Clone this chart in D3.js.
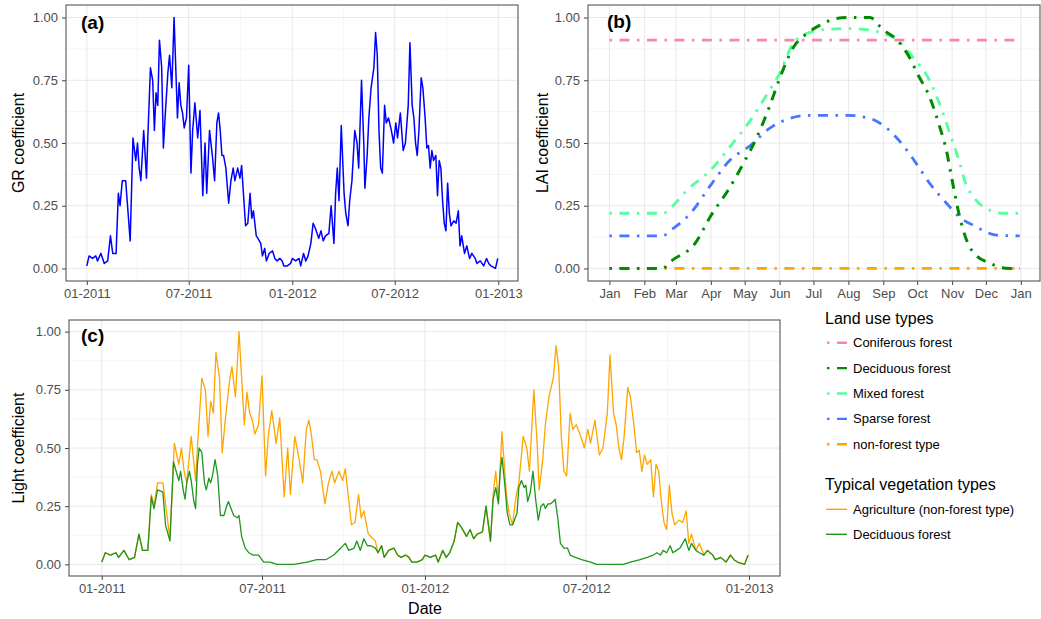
<!DOCTYPE html>
<html>
<head>
<meta charset="utf-8">
<script src="https://cdn.jsdelivr.net/npm/d3@7"></script>
<style>
body { margin: 0; background: #fff; }
svg { display: block; font-family: "Liberation Sans", Arial, sans-serif; }
</style>
</head>
<body>
<svg width="1041" height="619"></svg>
<script>
// days counted from 01-01-2011
var grDays = [0,4,10,16,19,25,31,37,42,46,52,56,59,63,69,77,82,87,90,93,96,101,106,108,113,117,120,123,126,129,133,136,139,144,147,151,154,155,161,164,167,170,173,177,181,185,188,192,197,201,206,210,213,218,223,227,231,234,237,240,243,247,252,256,260,263,268,272,275,282,286,290,293,296,301,304,309,312,316,319,324,330,334,338,343,347,350,356,362,365,371,377,380,385,389,393,398,402,406,412,416,420,424,430,434,439,442,445,448,452,457,460,464,467,471,476,480,483,488,492,494,498,501,505,510,513,516,519,522,525,529,532,536,541,545,549,552,557,562,566,571,574,578,581,584,587,590,594,597,601,604,607,610,613,616,620,623,626,629,632,635,638,641,644,647,652,656,660,663,666,671,675,680,684,690,693,699,705,710,714,718,726,730];
var grValues = [0.01,0.05,0.04,0.05,0.03,0.06,0.02,0.03,0.13,0.06,0.06,0.30,0.25,0.35,0.35,0.11,0.52,0.43,0.50,0.40,0.35,0.55,0.36,0.50,0.80,0.75,0.55,0.70,0.65,0.91,0.80,0.48,0.60,0.78,0.85,0.72,0.93,1.00,0.60,0.74,0.65,0.62,0.56,0.60,0.81,0.38,0.55,0.66,0.52,0.63,0.29,0.50,0.30,0.55,0.45,0.35,0.58,0.62,0.55,0.45,0.45,0.40,0.26,0.35,0.40,0.35,0.40,0.36,0.41,0.17,0.18,0.30,0.20,0.23,0.13,0.12,0.10,0.05,0.08,0.03,0.06,0.07,0.04,0.03,0.04,0.03,0.01,0.01,0.02,0.04,0.03,0.04,0.01,0.06,0.03,0.05,0.10,0.18,0.16,0.12,0.15,0.11,0.13,0.14,0.25,0.10,0.30,0.40,0.27,0.57,0.30,0.22,0.17,0.27,0.35,0.55,0.50,0.40,0.75,0.50,0.32,0.45,0.60,0.72,0.80,0.94,0.85,0.55,0.40,0.38,0.65,0.58,0.60,0.55,0.50,0.58,0.52,0.62,0.47,0.50,0.65,0.90,0.65,0.60,0.50,0.45,0.55,0.76,0.72,0.60,0.48,0.49,0.40,0.47,0.43,0.45,0.29,0.43,0.40,0.27,0.18,0.15,0.34,0.22,0.17,0.19,0.18,0.23,0.09,0.13,0.06,0.09,0.04,0.06,0.04,0.02,0.03,0.01,0.04,0.02,0.01,0.00,0.04];

// panel (c): agriculture follows the GR curve, deciduous read separately
var agriDays = grDays;
var agriValues = grValues;
var decidLightDays = [0,4,10,16,19,25,31,37,42,46,52,56,59,63,69,72,77,
  81,84,87,89,92,94,96,99,101,104,106,108,110,113,116,118,121,123,125,128,131,134,138,141,143,146,149,153,155,158,162,166,171,177,183,190,198,217,232,243,253,262,270,275,279,285,288,292,296,300,304,309,
  312,316,319,324,330,334,338,343,347,350,356,362,365,371,377,380,385,389,393,398,402,406,412,416,420,424,430,434,439,
  442,445,448,450,452,455,458,461,464,466,469,471,474,477,479,481,484,487,490,493,496,499,501,504,507,510,512,515,518,522,526,529,535,542,552,559,589,597,608,616,623,627,631,634,638,642,645,649,653,659,663,666,671,675,680,684,
  690,693,699,705,710,714,718,726,730];
var decidLightValues = [0.01,0.05,0.04,0.05,0.03,0.06,0.02,0.03,0.13,0.06,0.06,0.29,0.24,0.32,0.31,0.17,0.10,
  0.44,0.40,0.36,0.40,0.32,0.28,0.35,0.40,0.36,0.27,0.24,0.43,0.50,0.48,0.35,0.32,0.37,0.35,0.38,0.45,0.38,0.21,0.21,0.25,0.27,0.24,0.21,0.20,0.21,0.12,0.07,0.05,0.04,0.04,0.01,0.01,0.00,0.00,0.01,0.02,0.02,0.04,0.07,0.09,0.06,0.07,0.10,0.06,0.11,0.08,0.08,0.07,
  0.05,0.08,0.03,0.06,0.07,0.04,0.03,0.04,0.03,0.01,0.01,0.02,0.04,0.03,0.04,0.01,0.06,0.03,0.05,0.10,0.18,0.16,0.12,0.15,0.11,0.13,0.14,0.25,0.10,
  0.28,0.33,0.26,0.40,0.46,0.35,0.22,0.17,0.17,0.19,0.22,0.33,0.36,0.33,0.34,0.27,0.31,0.40,0.28,0.19,0.25,0.26,0.24,0.26,0.26,0.27,0.28,0.20,0.09,0.07,0.07,0.04,0.03,0.02,0.01,0.00,0.00,0.01,0.02,0.03,0.04,0.05,0.04,0.06,0.05,0.08,0.05,0.06,0.07,0.11,0.06,0.09,0.06,0.05,0.04,0.06,
  0.04,0.02,0.03,0.01,0.04,0.02,0.01,0.00,0.04];

// panel (b): LAI over one year, day of year
var coniferDays = [0,364];
var coniferLai = [0.91,0.91];
var deciduousDays = [0,47,55,76,90,105,119,131,142,151,163,175,187,201,212,231,243,254,266,274,284,293,299,304,310,318,325,338,347,356,364];
var deciduousLai = [0,0,0.03,0.10,0.21,0.31,0.42,0.525,0.645,0.757,0.88,0.936,0.97,0.996,1.0,1.0,0.95,0.916,0.843,0.77,0.684,0.565,0.47,0.353,0.22,0.10,0.054,0.02,0.004,0,0];
var mixedDays = [0,48,54,69,90,107,125,142,151,163,175,190,212,231,243,254,269,284,296,304,310,316,325,337,349,364];
var mixedLai = [0.22,0.22,0.24,0.313,0.393,0.485,0.59,0.71,0.777,0.897,0.936,0.952,0.956,0.95,0.936,0.916,0.843,0.75,0.618,0.512,0.432,0.34,0.273,0.233,0.22,0.22];
var sparseDays = [0,47,55,72,90,107,125,142,160,175,212,231,243,257,272,284,299,310,325,343,364];
var sparseLai = [0.13,0.13,0.154,0.22,0.333,0.432,0.49,0.558,0.598,0.61,0.61,0.598,0.57,0.51,0.42,0.34,0.26,0.207,0.167,0.133,0.13];
var nonForestDays = [0,364];
var nonForestLai = [0,0];

var landUseNames = ["Coniferous forest","Deciduous forest","Mixed forest","Sparse forest","non-forest type"];
var landUseColors = ["#ff82ab","#008b00","#54ff9f","#4876ff","#ffa500"];
var vegNames = ["Agriculture (non-forest type)","Deciduous forest"];
var vegColors = ["#ffa500","#1e961e"];

var yTicks = [0,0.25,0.5,0.75,1];
var yMinor = [0.125,0.375,0.625,0.875];

var start = new Date(Date.UTC(2011,0,1));
var toDate = function(d) { return d3.utcDay.offset(start, d); };
var zip = function(days, vals) { return days.map(function(d,i) { return {date: toDate(d), v: vals[i]}; }); };

var svg = d3.select("svg");
var dotdash = "2.5,7.5,10,7.5";

var drawPanel = function(box, x, y, xTicks, xMinor, xFormat)
{
  var w = box.right - box.left, h = box.bottom - box.top;
  x.range([0, w]);
  y.range([h, 0]);
  var g = svg.append("g").attr("transform","translate("+box.left+","+box.top+")");

  g.selectAll(".vmin").data(xMinor).enter().append("line")
   .attr("x1",function(d){return x(d);}).attr("x2",function(d){return x(d);})
   .attr("y1",0).attr("y2",h).attr("stroke","#f2f2f2").attr("stroke-width",0.8);
  g.selectAll(".hmin").data(yMinor).enter().append("line")
   .attr("y1",function(d){return y(d);}).attr("y2",function(d){return y(d);})
   .attr("x1",0).attr("x2",w).attr("stroke","#f2f2f2").attr("stroke-width",0.8);
  g.selectAll(".vmaj").data(xTicks).enter().append("line")
   .attr("x1",function(d){return x(d);}).attr("x2",function(d){return x(d);})
   .attr("y1",0).attr("y2",h).attr("stroke","#e8e8e8").attr("stroke-width",1);
  g.selectAll(".hmaj").data(yTicks).enter().append("line")
   .attr("y1",function(d){return y(d);}).attr("y2",function(d){return y(d);})
   .attr("x1",0).attr("x2",w).attr("stroke","#e8e8e8").attr("stroke-width",1);

  var xa = g.append("g").attr("transform","translate(0,"+h+")")
            .call(d3.axisBottom(x).tickValues(xTicks).tickFormat(xFormat).tickSize(4).tickPadding(4));
  var ya = g.append("g")
            .call(d3.axisLeft(y).tickValues(yTicks).tickFormat(d3.format(".2f")).tickSize(4).tickPadding(4));
  [xa, ya].forEach(function(a)
  {
    a.select(".domain").remove();
    a.selectAll("line").attr("stroke","#444");
    a.selectAll("text").attr("fill","#4d4d4d").style("font-size","13px").style("font-family","'Liberation Sans', Arial, sans-serif");
  });
  return g;
};

var addBorder = function(g, box)
{
  g.append("rect").attr("x",0).attr("y",0)
   .attr("width",box.right-box.left).attr("height",box.bottom-box.top)
   .attr("fill","none").attr("stroke","#555").attr("stroke-width",1.1);
};

var tag = function(txt, px, py)
{
  svg.append("text").attr("x",px).attr("y",py).text(txt)
     .style("font-size","19px").style("font-weight","bold").attr("fill","#000");
};

var yTitle = function(txt, px, py)
{
  svg.append("text").attr("transform","translate("+px+","+py+") rotate(-90)")
     .attr("text-anchor","middle").text(txt).style("font-size","16px").attr("fill","#000");
};

var twoYears = [d3.utcDay.offset(start,-36.5), d3.utcDay.offset(start,730+36.5)];
var halfYears = [0,6,12,18,24].map(function(m){return d3.utcMonth.offset(start,m);});
var quarters = [3,9,15,21].map(function(m){return d3.utcMonth.offset(start,m);});
var mmYYYY = d3.utcFormat("%m-%Y");

// ---- panel (a)
var boxA = {left:66, right:518, top:5, bottom:281};
var xA = d3.scaleUtc().domain(twoYears);
var yA = d3.scaleLinear().domain([-0.05,1.05]);
var gA = drawPanel(boxA, xA, yA, halfYears, quarters, mmYYYY);
gA.append("path").datum(zip(grDays, grValues))
  .attr("fill","none").attr("stroke","#0000ff").attr("stroke-width",1.5).attr("stroke-linejoin","round")
  .attr("d", d3.line().x(function(d){return xA(d.date);}).y(function(d){return yA(d.v);}));
addBorder(gA, boxA);
tag("(a)", 81, 29);
yTitle("GR coefficient", 24, 143);

// ---- panel (b)
var boxB = {left:588, right:1040, top:5, bottom:281};
var xB = d3.scaleUtc().domain([d3.utcDay.offset(start,-18.2), d3.utcDay.offset(start,364+18.2)]);
var yB = d3.scaleLinear().domain([-0.05,1.05]);
var months = d3.utcMonth.range(start, d3.utcDay.offset(start,366));
var gB = drawPanel(boxB, xB, yB, months, [], d3.utcFormat("%b"));
var laiSeries = [
  zip(coniferDays, coniferLai),
  zip(deciduousDays, deciduousLai),
  zip(mixedDays, mixedLai),
  zip(sparseDays, sparseLai),
  zip(nonForestDays, nonForestLai)
];
var laiLine = d3.line().curve(d3.curveMonotoneX)
  .x(function(d){return xB(d.date);}).y(function(d){return yB(d.v);});
// draw so that deciduous sits on top like the original
[4,0,3,2,1].forEach(function(i)
{
  gB.append("path").datum(laiSeries[i])
    .attr("fill","none").attr("stroke",landUseColors[i]).attr("stroke-width",i==1?3:2.8)
    .attr("stroke-dasharray",dotdash).attr("d",laiLine);
});
addBorder(gB, boxB);
tag("(b)", 607, 28);
yTitle("LAI coefficient", 548, 143);

// ---- panel (c)
var boxC = {left:69, right:780, top:320, bottom:576};
var xC = d3.scaleUtc().domain(twoYears);
var yC = d3.scaleLinear().domain([-0.05,1.05]);
var gC = drawPanel(boxC, xC, yC, halfYears, quarters, mmYYYY);
var lineC = d3.line().x(function(d){return xC(d.date);}).y(function(d){return yC(d.v);});
gC.append("path").datum(zip(agriDays, agriValues))
  .attr("fill","none").attr("stroke",vegColors[0]).attr("stroke-width",1.3).attr("stroke-linejoin","round").attr("d",lineC);
gC.append("path").datum(zip(decidLightDays, decidLightValues))
  .attr("fill","none").attr("stroke",vegColors[1]).attr("stroke-width",1.3).attr("stroke-linejoin","round").attr("d",lineC);
addBorder(gC, boxC);
tag("(c)", 81, 342);
yTitle("Light coefficient", 24, 448);
svg.append("text").attr("x",425).attr("y",614).attr("text-anchor","middle")
   .text("Date").style("font-size","16px");

// ---- legends
var leg = svg.append("g");
leg.append("text").attr("x",825).attr("y",324).text("Land use types").style("font-size","16px");
landUseNames.forEach(function(n,i)
{
  var yy = 342.7 + i*25.4;
  leg.append("line").attr("x1",827).attr("x2",849).attr("y1",yy).attr("y2",yy)
     .attr("stroke",landUseColors[i]).attr("stroke-width",2.4).attr("stroke-dasharray",dotdash);
  leg.append("text").attr("x",853).attr("y",yy).attr("dy","0.35em").text(n).style("font-size","13px");
});
leg.append("text").attr("x",825).attr("y",490).text("Typical vegetation types").style("font-size","16px");
vegNames.forEach(function(n,i)
{
  var yy = 509.3 + i*25;
  leg.append("line").attr("x1",826).attr("x2",847).attr("y1",yy).attr("y2",yy)
     .attr("stroke",vegColors[i]).attr("stroke-width",1.4);
  leg.append("text").attr("x",853).attr("y",yy).attr("dy","0.35em").text(n).style("font-size","13px");
});
</script>
</body>
</html>
